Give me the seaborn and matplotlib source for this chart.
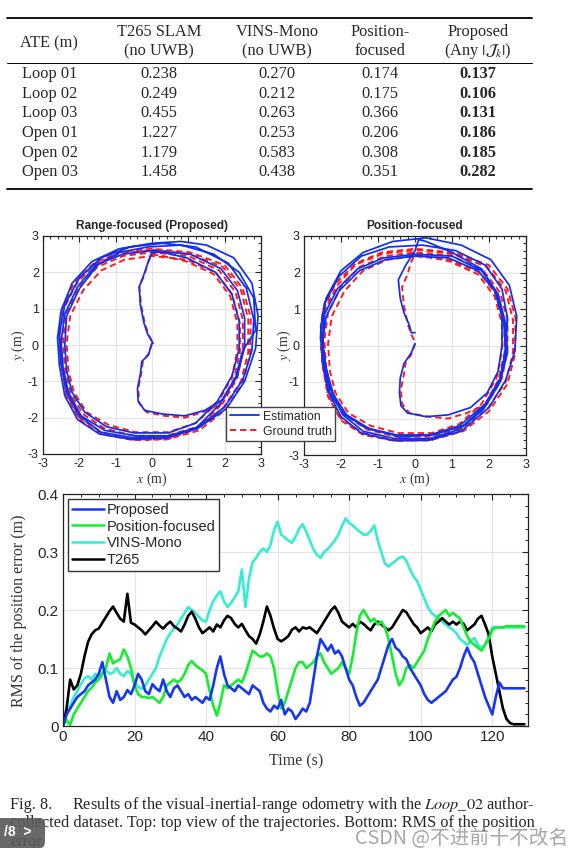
import numpy as np
import pandas as pd
import seaborn as sns
import matplotlib
matplotlib.use("Agg")
import matplotlib.pyplot as plt
from matplotlib.lines import Line2D
from matplotlib.patches import FancyBboxPatch
from matplotlib.ticker import MultipleLocator

# ---------------- table values ----------------
row_names = ["Loop 01", "Loop 02", "Loop 03", "Open 01", "Open 02", "Open 03"]
ate_t265 = ["0.238", "0.249", "0.455", "1.227", "1.179", "1.458"]
ate_vins = ["0.270", "0.212", "0.263", "0.253", "0.583", "0.438"]
ate_posf = ["0.174", "0.175", "0.366", "0.206", "0.308", "0.351"]
ate_prop = ["0.137", "0.106", "0.131", "0.186", "0.185", "0.282"]

# ---------------- trajectories (x, y) in m ----------------
gt_down = [(0.0, 0.05), (-0.1, -0.25), (-0.25, -0.45), (-0.3, -0.8), (-0.38, -1.2), (-0.35, -1.6),
           (-0.15, -1.85), (0.35, -1.95), (0.9, -2.0), (1.4, -1.85)]
gt_lap1 = [(1.95, -1.6), (2.35, -0.9), (2.5, -0.1), (2.5, 0.7), (2.3, 1.45), (1.85, 2.05), (1.0, 2.45),
           (0.0, 2.55), (-0.8, 2.45), (-1.5, 2.15), (-2.0, 1.6), (-2.35, 0.9), (-2.45, 0.15), (-2.4, -0.6),
           (-2.25, -1.3), (-1.9, -1.9), (-1.3, -2.3), (-0.5, -2.5), (0.4, -2.5), (1.25, -2.25)]
gt_lap2 = [(1.95, -1.75), (2.45, -1.0), (2.65, -0.2), (2.65, 0.7), (2.45, 1.5), (1.95, 2.15), (1.05, 2.5),
           (0.05, 2.62), (-0.85, 2.52), (-1.6, 2.22), (-2.1, 1.65), (-2.45, 0.95), (-2.55, 0.2), (-2.5, -0.55),
           (-2.35, -1.35), (-2.0, -2.0), (-1.4, -2.4), (-0.55, -2.6), (0.4, -2.6), (1.3, -2.35)]
gt_lap3 = [(2.0, -1.8), (2.5, -1.05), (2.7, -0.25), (2.72, 0.75), (2.5, 1.55), (2.0, 2.2), (1.05, 2.55),
           (0.0, 2.65), (-0.9, 2.55), (-1.6, 2.25), (-2.15, 1.7), (-2.5, 0.95), (-2.55, 0.25), (-2.5, -0.5),
           (-2.35, -1.4), (-2.0, -2.05), (-1.4, -2.45), (-0.5, -2.62), (0.45, -2.58), (1.25, -2.3)]
gt_lap4 = [(1.85, -1.7), (2.25, -0.95), (2.42, -0.2), (2.42, 0.6), (2.2, 1.4), (1.75, 2.0), (0.95, 2.35),
           (0.0, 2.45), (-0.75, 2.35), (-1.4, 2.05), (-1.9, 1.5), (-2.25, 0.8), (-2.35, 0.05), (-2.3, -0.7),
           (-2.15, -1.3), (-1.8, -1.85), (-1.2, -2.2), (-0.45, -2.4), (0.45, -2.4), (1.2, -2.15)]
gt_lap5 = [(1.8, -1.6), (2.2, -0.9), (2.35, -0.15), (2.35, 0.6), (2.15, 1.35), (1.7, 1.95), (0.95, 2.3),
           (0.3, 2.45), (0.0, 2.5)]
gt_up = [(-0.12, 2.25), (-0.2, 1.95), (-0.35, 1.6), (-0.3, 1.1), (-0.2, 0.6), (-0.1, 0.3), (0.0, 0.1),
         (0.02, 0.05)]

rf_down = [(0.0, 0.05), (-0.1, -0.28), (-0.28, -0.45), (-0.32, -0.8), (-0.4, -1.2), (-0.38, -1.55),
           (-0.2, -1.8), (0.3, -1.9), (0.9, -1.95), (1.45, -1.8)]
rf_lap1 = [(1.95, -1.5), (2.35, -0.85), (2.55, -0.05), (2.55, 0.75), (2.35, 1.5), (1.9, 2.1), (1.05, 2.5),
           (0.05, 2.6), (-0.8, 2.5), (-1.55, 2.2), (-2.05, 1.6), (-2.4, 0.85), (-2.5, 0.1), (-2.45, -0.6),
           (-2.3, -1.3), (-1.95, -1.95), (-1.3, -2.35), (-0.45, -2.5), (0.45, -2.5), (1.3, -2.25)]
rf_lap2 = [(2.0, -1.7), (2.5, -0.95), (2.75, -0.15), (2.8, 0.7), (2.6, 1.55), (2.1, 2.25), (1.2, 2.7),
           (0.3, 2.8), (-0.6, 2.7), (-1.4, 2.4), (-2.0, 1.85), (-2.4, 1.1), (-2.55, 0.3), (-2.5, -0.5),
           (-2.35, -1.3), (-2.0, -1.95), (-1.4, -2.4), (-0.55, -2.55), (0.4, -2.55), (1.25, -2.3)]
rf_lap3 = [(2.05, -1.75), (2.55, -1.0), (2.85, -0.1), (2.92, 0.8), (2.75, 1.7), (2.25, 2.4), (1.5, 2.75),
           (0.8, 2.85), (0.0, 2.8), (-0.9, 2.65), (-1.65, 2.3), (-2.2, 1.7), (-2.5, 0.95), (-2.6, 0.2),
           (-2.55, -0.55), (-2.4, -1.4), (-2.05, -2.05), (-1.45, -2.45), (-0.55, -2.6), (0.4, -2.55), (1.2, -2.3)]
rf_lap4 = [(1.85, -1.65), (2.3, -0.9), (2.5, -0.15), (2.85, 0.4), (2.8, 1.3), (2.4, 2.0), (1.7, 2.5),
           (0.8, 2.75), (-0.1, 2.7), (-0.9, 2.55), (-1.5, 2.2), (-2.0, 1.55), (-2.35, 0.8), (-2.4, 0.0),
           (-2.35, -0.7), (-2.2, -1.3), (-1.85, -1.85), (-1.25, -2.25), (-0.5, -2.42), (0.45, -2.42), (1.2, -2.15)]
rf_lap5 = [(1.8, -1.55), (2.2, -0.85), (2.4, -0.1), (2.4, 0.65), (2.2, 1.4), (1.75, 2.0), (0.95, 2.4),
           (0.3, 2.55), (0.0, 2.55)]
rf_up = [(-0.1, 2.3), (-0.2, 2.0), (-0.35, 1.6), (-0.32, 1.1), (-0.22, 0.6), (-0.12, 0.3), (0.0, 0.1),
         (0.03, 0.05)]

pf_down = [(0.0, 0.05), (-0.1, -0.2), (-0.2, -0.35), (-0.3, -0.5), (-0.4, -0.9), (-0.42, -1.3),
           (-0.38, -1.65), (-0.2, -1.85), (0.3, -1.95), (0.9, -1.9), (1.5, -1.7)]
pf_lap1 = [(1.95, -1.3), (2.25, -0.7), (2.35, 0.0), (2.35, 0.8), (2.15, 1.5), (1.7, 2.05), (0.9, 2.4),
           (0.0, 2.45), (-0.8, 2.35), (-1.5, 2.05), (-2.05, 1.5), (-2.4, 0.8), (-2.5, 0.1), (-2.45, -0.6),
           (-2.3, -1.3), (-1.95, -1.85), (-1.35, -2.25), (-0.5, -2.45), (0.4, -2.45), (1.2, -2.2)]
pf_lap2 = [(1.9, -1.6), (2.3, -0.9), (2.45, -0.1), (2.5, 0.75), (2.35, 1.55), (1.9, 2.2), (1.1, 2.6),
           (0.2, 2.75), (-0.7, 2.7), (-1.45, 2.45), (-2.05, 1.9), (-2.45, 1.15), (-2.55, 0.35), (-2.5, -0.45),
           (-2.35, -1.25), (-2.0, -1.95), (-1.45, -2.4), (-0.6, -2.6), (0.35, -2.6), (1.25, -2.35)]
pf_lap3 = [(2.0, -1.7), (2.45, -0.95), (2.7, -0.15), (2.75, 0.8), (2.55, 1.65), (2.05, 2.35), (1.25, 2.75),
           (0.3, 2.95), (-0.6, 2.85), (-1.4, 2.55), (-2.0, 2.05), (-2.4, 1.3), (-2.55, 0.5), (-2.45, -0.35),
           (-2.3, -1.15), (-1.95, -1.9), (-1.4, -2.35), (-0.55, -2.55), (0.4, -2.55), (1.2, -2.3)]
pf_lap4 = [(1.85, -1.75), (2.3, -1.0), (2.5, -0.2), (2.45, 0.6), (2.25, 1.4), (1.8, 2.05), (1.0, 2.45),
           (0.0, 2.5), (-0.85, 2.4), (-1.55, 2.1), (-2.1, 1.55), (-2.45, 0.85), (-2.5, 0.1), (-2.4, -0.65),
           (-2.2, -1.35), (-1.85, -1.9), (-1.2, -2.3), (-0.4, -2.5), (0.5, -2.45), (1.3, -2.2)]
pf_lap5 = [(1.9, -1.65), (2.3, -0.95), (2.45, -0.2), (2.4, 0.65), (2.2, 1.45), (1.8, 2.1), (1.0, 2.55),
           (0.3, 2.85), (0.1, 2.9)]
pf_up = [(0.0, 2.6), (-0.25, 2.2), (-0.45, 1.8), (-0.4, 1.3), (-0.3, 0.9), (-0.15, 0.55), (-0.1, 0.35),
         (0.0, 0.35)]

# ---------------- RMS error vs time (1 s steps) ----------------
time_s = list(range(130))
rms_t265 = [0.000, 0.030, 0.080, 0.063, 0.070, 0.090, 0.120, 0.145, 0.158, 0.165,
            0.168, 0.178, 0.188, 0.198, 0.206, 0.195, 0.185, 0.180, 0.228, 0.178,
            0.175, 0.170, 0.165, 0.158, 0.165, 0.172, 0.180, 0.173, 0.168, 0.175,
            0.180, 0.172, 0.168, 0.163, 0.175, 0.190, 0.197, 0.185, 0.170, 0.160,
            0.165, 0.170, 0.163, 0.175, 0.170, 0.182, 0.190, 0.186, 0.176, 0.170,
            0.176, 0.165, 0.155, 0.150, 0.142, 0.158, 0.180, 0.206, 0.190, 0.168,
            0.150, 0.146, 0.150, 0.155, 0.166, 0.170, 0.163, 0.170, 0.168, 0.170,
            0.165, 0.160, 0.170, 0.180, 0.190, 0.200, 0.206, 0.195, 0.180, 0.175,
            0.170, 0.176, 0.170, 0.180, 0.176, 0.170, 0.165, 0.175, 0.180, 0.175,
            0.170, 0.165, 0.170, 0.180, 0.190, 0.200, 0.196, 0.186, 0.176, 0.170,
            0.160, 0.165, 0.170, 0.163, 0.175, 0.180, 0.186, 0.180, 0.175, 0.180,
            0.175, 0.180, 0.176, 0.165, 0.170, 0.175, 0.185, 0.190, 0.175, 0.158,
            0.120, 0.090, 0.060, 0.030, 0.012, 0.005, 0.003, 0.003, 0.003, 0.003]
rms_vins = [0.000, 0.020, 0.035, 0.050, 0.060, 0.072, 0.082, 0.086, 0.080, 0.090,
            0.085, 0.092, 0.096, 0.090, 0.092, 0.100, 0.090, 0.086, 0.095, 0.090,
            0.075, 0.068, 0.064, 0.070, 0.080, 0.090, 0.100, 0.120, 0.135, 0.150,
            0.160, 0.168, 0.175, 0.185, 0.195, 0.205, 0.200, 0.195, 0.188, 0.182,
            0.180, 0.200, 0.215, 0.225, 0.232, 0.215, 0.205, 0.212, 0.222, 0.232,
            0.270, 0.205, 0.255, 0.282, 0.290, 0.300, 0.306, 0.300, 0.312, 0.338,
            0.352, 0.330, 0.325, 0.320, 0.316, 0.326, 0.340, 0.348, 0.335, 0.320,
            0.305, 0.295, 0.290, 0.300, 0.305, 0.312, 0.320, 0.330, 0.345, 0.358,
            0.350, 0.346, 0.340, 0.335, 0.330, 0.330, 0.336, 0.346, 0.320, 0.300,
            0.280, 0.275, 0.280, 0.285, 0.290, 0.292, 0.285, 0.270, 0.258, 0.250,
            0.235, 0.220, 0.205, 0.195, 0.190, 0.186, 0.180, 0.175, 0.170, 0.166,
            0.160, 0.150, 0.145, 0.140, 0.146, 0.152, 0.140, 0.135, 0.140, 0.155,
            0.170, 0.170, 0.170, 0.170, 0.170, 0.170, 0.170, 0.170, 0.170, 0.170]
rms_posf = [0.000, 0.010, 0.002, 0.020, 0.030, 0.040, 0.050, 0.060, 0.066, 0.075,
            0.080, 0.090, 0.100, 0.125, 0.108, 0.112, 0.115, 0.132, 0.120, 0.100,
            0.070, 0.055, 0.050, 0.050, 0.048, 0.050, 0.045, 0.040, 0.050, 0.070,
            0.075, 0.080, 0.075, 0.080, 0.090, 0.105, 0.112, 0.105, 0.100, 0.096,
            0.090, 0.060, 0.035, 0.018, 0.040, 0.070, 0.065, 0.070, 0.075, 0.080,
            0.075, 0.090, 0.110, 0.130, 0.125, 0.120, 0.120, 0.125, 0.120, 0.100,
            0.060, 0.030, 0.040, 0.060, 0.080, 0.100, 0.110, 0.110, 0.100, 0.105,
            0.110, 0.120, 0.125, 0.110, 0.100, 0.090, 0.095, 0.100, 0.110, 0.100,
            0.090, 0.120, 0.160, 0.190, 0.200, 0.190, 0.180, 0.185, 0.175, 0.180,
            0.170, 0.150, 0.120, 0.090, 0.070, 0.080, 0.100, 0.105, 0.100, 0.110,
            0.120, 0.130, 0.150, 0.165, 0.180, 0.190, 0.195, 0.200, 0.190, 0.195,
            0.190, 0.185, 0.170, 0.155, 0.145, 0.140, 0.135, 0.130, 0.140, 0.150,
            0.165, 0.170, 0.170, 0.170, 0.172, 0.172, 0.172, 0.172, 0.172, 0.172]
rms_prop = [0.000, 0.020, 0.030, 0.040, 0.050, 0.055, 0.060, 0.070, 0.075, 0.080,
            0.090, 0.110, 0.080, 0.050, 0.040, 0.060, 0.045, 0.050, 0.062, 0.055,
            0.070, 0.090, 0.080, 0.060, 0.055, 0.072, 0.065, 0.060, 0.080, 0.060,
            0.050, 0.065, 0.070, 0.060, 0.050, 0.055, 0.045, 0.050, 0.045, 0.040,
            0.050, 0.045, 0.070, 0.100, 0.120, 0.090, 0.070, 0.065, 0.060, 0.070,
            0.065, 0.060, 0.055, 0.070, 0.065, 0.060, 0.040, 0.030, 0.025, 0.035,
            0.030, 0.045, 0.020, 0.030, 0.025, 0.012, 0.020, 0.030, 0.025, 0.040,
            0.080, 0.120, 0.150, 0.140, 0.130, 0.140, 0.125, 0.130, 0.120, 0.100,
            0.080, 0.070, 0.050, 0.035, 0.040, 0.050, 0.060, 0.070, 0.080, 0.100,
            0.120, 0.140, 0.150, 0.135, 0.130, 0.120, 0.115, 0.100, 0.090, 0.080,
            0.070, 0.055, 0.045, 0.040, 0.045, 0.050, 0.055, 0.060, 0.070, 0.080,
            0.085, 0.100, 0.120, 0.135, 0.120, 0.110, 0.090, 0.070, 0.050, 0.035,
            0.020, 0.050, 0.075, 0.065, 0.065, 0.065, 0.065, 0.065, 0.065, 0.065]

series_names = ["Proposed", "Position-focused", "VINS-Mono", "T265"]
series_colors = {"Proposed": "#1536f5", "Position-focused": "#14ee2e",
                 "VINS-Mono": "#35eed2", "T265": "#000000"}

# ---------------- figure ----------------
sns.set_style("white")
plt.rcParams["font.family"] = ["Liberation Sans", "DejaVu Sans"]
plt.rcParams["mathtext.fontset"] = "stix"
plt.rcParams["axes.unicode_minus"] = False

W, H = 580, 856
fig = plt.figure(figsize=(W / 100, H / 100), dpi=100)
SERIF = ["Liberation Serif", "DejaVu Serif"]


def fx(x):
    return x / W


def fy(y):
    return 1 - y / H


def add_axes_px(left, top, right, bottom):
    return fig.add_axes([left / W, 1 - bottom / H, (right - left) / W, (bottom - top) / H])


def hline(x0, x1, y, lw):
    fig.add_artist(Line2D([fx(x0), fx(x1)], [fy(y), fy(y)], color="black", lw=lw))


# table
hline(7, 532, 17.5, 1.3)
hline(7, 532, 63, 0.7)
hline(7, 532, 188.5, 1.3)
tfs = 11.8
col_x = [159, 277, 380, 478]
fig.text(fx(49), fy(43), "ATE (m)", family=SERIF, fontsize=tfs, ha="center", va="center")
headers = [("T265 SLAM", "(no UWB)"), ("VINS-Mono", "(no UWB)"), ("Position-", "focused"),
           ("Proposed", r"(Any $|\mathcal{J}_k|$)")]
for cx, (h1, h2) in zip(col_x, headers):
    fig.text(fx(cx), fy(32), h1, family=SERIF, fontsize=tfs, ha="center", va="center")
    fig.text(fx(cx), fy(51), h2, family=SERIF, fontsize=tfs, ha="center", va="center")
row_y = [74, 93.5, 113, 133, 153, 172]
for i, ry in enumerate(row_y):
    fig.text(fx(22), fy(ry), row_names[i], family=SERIF, fontsize=tfs, ha="left", va="center")
    for cx, col in zip(col_x[:3], [ate_t265, ate_vins, ate_posf]):
        fig.text(fx(cx), fy(ry), col[i], family=SERIF, fontsize=tfs, ha="center", va="center")
    fig.text(fx(col_x[3]), fy(ry), ate_prop[i], family=SERIF, fontsize=tfs, ha="center",
             va="center", fontweight="bold")


def path_frame(*segments):
    pts = [p for seg in segments for p in seg]
    return pd.DataFrame(pts, columns=["x", "y"])


gt_df = path_frame(gt_down, gt_lap1, gt_lap2, gt_lap3, gt_lap4, gt_lap5, gt_up)
rf_df = path_frame(rf_down, rf_lap1, rf_lap2, rf_lap3, rf_lap4, rf_lap5, rf_up)
pf_df = path_frame(pf_down, pf_lap1, pf_lap2, pf_lap3, pf_lap4, pf_lap5, pf_up)


def style_matlab(ax, fs):
    ax.tick_params(which="both", direction="in", top=True, right=True, labelsize=fs, pad=3)
    ax.tick_params(which="major", length=4.5, width=0.8)
    ax.tick_params(which="minor", length=2.2, width=0.7)
    ax.grid(True, which="major", color="#e3e3e3", lw=0.8)
    ax.set_axisbelow(True)
    for s in ax.spines.values():
        s.set_color("#222222")
        s.set_linewidth(0.9)
    ax.set_xlabel("")
    ax.set_ylabel("")


traj_axes = [(add_axes_px(43, 236, 261, 454), rf_df, "Range-focused (Proposed)", 152, 18),
             (add_axes_px(304, 236, 526, 455), pf_df, "Position-focused", 415, 284)]
for ax, est_df, title, cx, ylx in traj_axes:
    sns.lineplot(data=gt_df, x="x", y="y", sort=False, estimator=None, ax=ax, color="#ff1a1a",
                 lw=1.4, linestyle=(0, (3.2, 2.0)))
    sns.lineplot(data=est_df, x="x", y="y", sort=False, estimator=None, ax=ax, color="#1030f0", lw=1.25)
    ax.set_xlim(-3, 3)
    ax.set_ylim(-3, 3)
    ax.xaxis.set_major_locator(MultipleLocator(1))
    ax.yaxis.set_major_locator(MultipleLocator(1))
    ax.xaxis.set_minor_locator(MultipleLocator(0.2))
    ax.yaxis.set_minor_locator(MultipleLocator(0.2))
    style_matlab(ax, 9)
    fig.text(fx(cx), fy(226), title, fontsize=8.6, fontweight="bold", ha="center", va="center")
    fig.text(fx(cx), fy(479), r"$x$ (m)", family=SERIF, fontsize=10, ha="center", va="center",
             color="#333333")
    fig.text(fx(ylx), fy(345), r"$y$ (m)", family=SERIF, fontsize=10, ha="center", va="center",
             rotation=90, color="#333333")

traj_handles = [Line2D([], [], color="#1030f0", lw=1.3),
                Line2D([], [], color="#ff1a1a", lw=1.4, linestyle=(0, (3.2, 2.0)))]
fig.legend(traj_handles, ["Estimation", "Ground truth"], loc="upper left",
           bbox_to_anchor=(fx(226), fy(407)), bbox_transform=fig.transFigure, fontsize=8.8,
           frameon=True, fancybox=False, edgecolor="#444444", framealpha=1, borderaxespad=0,
           borderpad=0.3, handlelength=2.4, handletextpad=0.3, labelspacing=0.25)

# RMS plot
ax3 = add_axes_px(63, 494, 528, 726)
rms_df = pd.DataFrame({"Time": time_s, "T265": rms_t265, "VINS-Mono": rms_vins,
                       "Position-focused": rms_posf, "Proposed": rms_prop})
for name in ["VINS-Mono", "T265", "Position-focused", "Proposed"]:
    sns.lineplot(data=rms_df, x="Time", y=name, ax=ax3, color=series_colors[name], lw=1.9)
ax3.set_xlim(0, 130)
ax3.set_ylim(0, 0.4)
ax3.xaxis.set_major_locator(MultipleLocator(20))
ax3.xaxis.set_minor_locator(MultipleLocator(5))
ax3.set_yticks([0, 0.1, 0.2, 0.3, 0.4])
ax3.set_yticklabels(["0", "0.1", "0.2", "0.3", "0.4"])
ax3.yaxis.set_minor_locator(MultipleLocator(0.02))
style_matlab(ax3, 11)
ax3.set_xticks([0, 20, 40, 60, 80, 100, 120])
fig.text(fx(296), fy(761), "Time (s)", family=SERIF, fontsize=11.5, ha="center", va="center",
         color="#333333")
fig.text(fx(19), fy(611), "RMS of the position error (m)", family=SERIF, fontsize=11.5,
         ha="center", va="center", rotation=90, color="#333333")
rms_handles = [Line2D([], [], color=series_colors[n], lw=1.8) for n in series_names]
ax3.legend(rms_handles, series_names, loc="upper left", bbox_to_anchor=(fx(68), fy(499)),
           bbox_transform=fig.transFigure, fontsize=10.5, frameon=True, fancybox=False,
           edgecolor="#333333", framealpha=1, borderaxespad=0, borderpad=0.25,
           handlelength=2.2, handletextpad=0.2, labelspacing=0.2)

# caption
cfs = 11.7
fig.text(fx(10), fy(805), "Fig. 8.", family=SERIF, fontsize=cfs, va="center")
fig.text(fx(72), fy(805), r"Results of the visual-inertial-range odometry with the $\mathit{Loop\_02}$ author-",
         family=SERIF, fontsize=cfs, va="center")
fig.text(fx(10), fy(823), "collected dataset. Top: top view of the trajectories. Bottom: RMS of the position",
         family=SERIF, fontsize=cfs, va="center")
fig.text(fx(10), fy(842), "error", family=SERIF, fontsize=cfs, va="center")

# page badge and watermark
fig.add_artist(FancyBboxPatch((fx(-12), fy(848)), 57 / W, 30 / H,
                              boxstyle="round,pad=0,rounding_size=0.008",
                              transform=fig.transFigure, fc="#5b5b5b", ec="none", alpha=0.92, zorder=10))
fig.text(fx(4), fy(832), "/8  >", color="white", fontsize=10, fontweight="bold", va="center", zorder=11)
fig.text(fx(355), fy(838), "CSDN @不进前十不改名", family=["Noto Sans CJK SC", "DejaVu Sans"],
         fontsize=14.2, color="#9d9d9d", alpha=0.9, va="center", zorder=11)

fig.savefig("out.png", dpi=100)
